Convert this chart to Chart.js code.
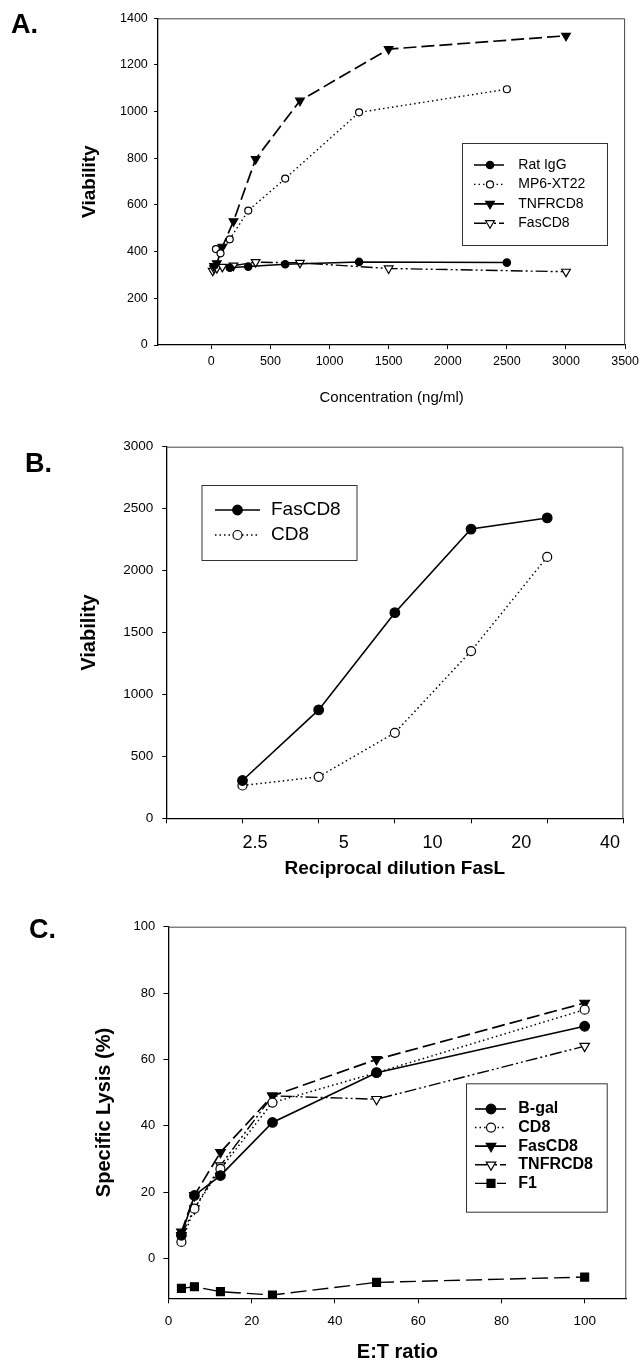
<!DOCTYPE html>
<html>
<head>
<meta charset="utf-8">
<script src="https://cdn.jsdelivr.net/npm/chart.js@4.4.1/dist/chart.umd.min.js"></script>
<style>
  body { margin: 0; background: #fff; width: 644px; height: 1362px; position: relative; overflow: hidden;
         font-family: 'Liberation Sans', Arial, sans-serif; }
  .panel { position: absolute; left: 0; width: 644px; }
  .panel canvas { display: block; }
  .tag { position: absolute; font-weight: bold; font-size: 27px; line-height: 27px; color: #000; }
</style>
</head>
<body>
<div class="panel" style="top:0;height:420px"><canvas id="chartA" width="644" height="420"></canvas></div>
<div class="panel" style="top:420px;height:470px"><canvas id="chartB" width="644" height="470"></canvas></div>
<div class="panel" style="top:890px;height:472px"><canvas id="chartC" width="644" height="472"></canvas></div>
<div class="tag" style="left:11px;top:11.4px">A.</div>
<div class="tag" style="left:25px;top:449.7px">B.</div>
<div class="tag" style="left:29px;top:916.4px">C.</div>

<script>
// ── A: viability vs. antibody / fusion protein concentration ──
const concRatIgG = [156.25, 312.5, 625, 1250, 2500];
const ratIgG     = [331, 336, 346, 356, 353];
const concMP6    = [39, 78, 156.25, 312.5, 625, 1250, 2500];
const mp6XT22    = [411, 393, 453, 576, 713, 997, 1096];
const concTNFR   = [23.4, 46.9, 93.75, 187.5, 375, 750, 1500, 3000];
const tnfrCD8A   = [338, 350, 421, 530, 797, 1047, 1268, 1325];
const concFas    = [11.7, 23.4, 46.9, 93.75, 187.5, 375, 750, 1500, 3000];
const fasCD8A    = [318, 328, 330, 335, 340, 355, 352, 328, 314];
const tickConcA  = [0, 500, 1000, 1500, 2000, 2500, 3000, 3500];
const tickViabA  = [0, 200, 400, 600, 800, 1000, 1200, 1400];

// ── B: viability vs. reciprocal FasL dilution ──
const dilutionB  = [2.5, 5, 10, 20, 40];
const fasCD8B    = [305, 875, 1660, 2335, 2425];
const cd8B       = [265, 335, 690, 1350, 2110];
const tickDilB   = [1.25, 2.5, 5, 10, 20, 40, 80];   // tick marks
const labelDilB  = [2.5, 5, 10, 20, 40];             // printed labels (offset in the original)
const tickViabB  = [0, 500, 1000, 1500, 2000, 2500, 3000];

// ── C: specific lysis vs. E:T ratio ──
const ratioC     = [3.125, 6.25, 12.5, 25, 50, 100];
const bgalC      = [7, 19, 25, 41, 56, 70];
const cd8C       = [5, 15, 27, 47, 56, 75];
const fasCD8C    = [8, 19, 32, 49, 60, 77];
const tnfrCD8C   = [7, 15, 28, 49, 48, 64];
const f1C        = [-9, -8.5, -10, -11, -7.2, -5.6];
const tickRatioC = [0, 20, 40, 60, 80, 100];
const tickLysisC = [0, 20, 40, 60, 80, 100];

const FONT = "'Liberation Sans', Arial, sans-serif";

const DASH = {
  solid: [],
  dot: [1.5, 3],
  longDash: [13, 5],
  dashDotDot: [12, 3, 2, 3, 2, 3],
  dash: [16, 6]
};
const MARK = {
  dot:     { style: 'circle',   rot: 0,   fill: '#000' },
  ring:    { style: 'circle',   rot: 0,   fill: '#fff' },
  triDown: { style: 'triangle', rot: 180, fill: '#000' },
  triOpen: { style: 'triangle', rot: 180, fill: '#fff' },
  square:  { style: 'rect',     rot: 0,   fill: '#000' }
};

/** 데이터셋 하나 */
function series(label, xs, ys, dash, mark, r, lw) {
  return {
    label,
    data: xs.map((x, i) => ({ x, y: ys[i] })),
    borderColor: '#000', borderWidth: lw, borderDash: dash,
    pointStyle: mark.style, pointRotation: mark.rot,
    pointRadius: r, pointHoverRadius: r,
    pointBackgroundColor: mark.fill, pointBorderColor: '#000', pointBorderWidth: 1.2,
    fill: false, tension: 0
  };
}

const setTicks = arr => s => { s.ticks = arr.map(v => ({ value: v })); };
const plain = v => String(v);

function yAxis(o) {
  return {
    type: 'linear', position: 'left', min: o.min, max: o.max,
    afterBuildTicks: setTicks(o.ticks),
    afterFit: s => { s.width = o.width; },
    grid: { drawOnChartArea: false, color: '#000', tickLength: o.tl, tickWidth: 1 },
    border: { color: '#000', width: 1.3 },
    ticks: { color: '#000', padding: o.pad, callback: plain, font: { family: FONT, size: o.size } },
    title: {
      display: true, text: o.title, color: '#000',
      font: { family: FONT, size: o.tSize, weight: 'bold', lineHeight: 1 },
      padding: { top: o.tPad, bottom: 0 }
    }
  };
}

function xAxis(o) {
  return {
    type: o.type || 'linear', position: 'bottom', min: o.min, max: o.max, weight: o.weight || 0,
    afterBuildTicks: setTicks(o.ticks),
    afterFit: s => { s.height = o.height; },
    grid: o.noMarks
      ? { display: false, drawTicks: false }
      : { drawOnChartArea: false, color: '#000', tickLength: o.tl, tickWidth: 1 },
    border: o.noMarks ? { display: false } : { color: '#000', width: 1.3 },
    ticks: {
      display: o.size > 0, color: '#000', padding: o.pad || 0, callback: plain,
      maxRotation: 0, autoSkip: false, font: { family: FONT, size: o.size || 10 }
    },
    title: o.title ? {
      display: true, text: o.title, color: '#000',
      font: { family: FONT, size: o.tSize, weight: o.tBold ? 'bold' : 'normal', lineHeight: 1 },
      padding: { top: 0, bottom: o.tPad }
    } : { display: false }
  };
}

// 플롯 테두리 (위, 오른쪽)
const frame = {
  id: 'frame',
  beforeDatasetsDraw(chart) {
    const { ctx, chartArea: a } = chart;
    ctx.save();
    ctx.strokeStyle = '#444';
    ctx.lineWidth = 1;
    ctx.beginPath();
    ctx.moveTo(a.left, a.top + 0.5);
    ctx.lineTo(a.right - 0.5, a.top + 0.5);
    ctx.lineTo(a.right - 0.5, a.bottom);
    ctx.stroke();
    ctx.restore();
  }
};

// 박스 범례 (선 + 마커 + 라벨)
function boxLegend(o) {
  return {
    id: 'boxLegend',
    afterDraw(chart) {
      const ctx = chart.ctx;
      ctx.save();
      ctx.fillStyle = '#fff';
      ctx.fillRect(o.x, o.y, o.w, o.h);
      ctx.strokeStyle = '#333';
      ctx.lineWidth = 1;
      ctx.strokeRect(o.x + 0.5, o.y + 0.5, o.w, o.h);
      chart.data.datasets.forEach((ds, i) => {
        const y = o.rowY + i * o.rowGap;
        ctx.setLineDash(ds.borderDash);
        ctx.strokeStyle = ds.borderColor;
        ctx.lineWidth = ds.borderWidth;
        ctx.beginPath();
        ctx.moveTo(o.x0, y);
        ctx.lineTo(o.x1, y);
        ctx.stroke();
        ctx.setLineDash([]);
        ctx.fillStyle = ds.pointBackgroundColor;
        ctx.strokeStyle = ds.pointBorderColor;
        ctx.lineWidth = ds.pointBorderWidth;
        Chart.helpers.drawPoint(ctx, {
          pointStyle: ds.pointStyle, rotation: ds.pointRotation,
          radius: ds.pointRadius, borderWidth: ds.pointBorderWidth
        }, o.mx, y);
        ctx.fillStyle = '#000';
        ctx.font = o.font;
        ctx.textBaseline = 'middle';
        ctx.textAlign = 'left';
        ctx.fillText(ds.label, o.tx, y);
      });
      ctx.restore();
    }
  };
}

const common = {
  responsive: false,
  animation: false,
  events: [],
  plugins: { legend: { display: false }, tooltip: { enabled: false } }
};

// ── A ──
new Chart(document.getElementById('chartA'), {
  type: 'line',
  data: {
    datasets: [
      series('Rat IgG',  concRatIgG, ratIgG,   DASH.solid,      MARK.dot,     3.7, 1.5),
      series('MP6-XT22', concMP6,    mp6XT22,  DASH.dot,        MARK.ring,    3.5, 1.4),
      series('TNFRCD8',  concTNFR,   tnfrCD8A, DASH.longDash,   MARK.triDown, 5,   1.7),
      series('FasCD8',   concFas,    fasCD8A,  DASH.dashDotDot, MARK.triOpen, 5,   1.4)
    ]
  },
  options: {
    ...common,
    layout: { padding: { left: 0, top: 18.3, right: 15.7, bottom: 0 } },
    scales: {
      x: xAxis({ min: -450, max: 3500, ticks: tickConcA, height: 75, tl: 4, pad: 5, size: 12.5,
                 title: 'Concentration (ng/ml)', tSize: 15, tPad: 14.5 }),
      y: yAxis({ min: 0, max: 1400, ticks: tickViabA, width: 158.1, tl: 4, pad: 6.3, size: 12.5,
                 title: 'Viability', tSize: 19, tPad: 80 })
    }
  },
  plugins: [frame, boxLegend({ x: 462, y: 143, w: 145, h: 102, rowY: 165, rowGap: 19.4,
                               x0: 474, x1: 504, mx: 490, tx: 518.3, font: '14px ' + FONT })]
});

// ── B ──
new Chart(document.getElementById('chartB'), {
  type: 'line',
  data: {
    datasets: [
      series('FasCD8', dilutionB, fasCD8B, DASH.solid, MARK.dot,  4.8, 1.6),
      series('CD8',    dilutionB, cd8B,    DASH.dot,   MARK.ring, 4.5, 1.5)
    ]
  },
  options: {
    ...common,
    layout: { padding: { left: 0, top: 26.7, right: 20.6, bottom: 0 } },
    scales: {
      x: xAxis({ type: 'logarithmic', min: 1.25, max: 80, ticks: tickDilB, height: 5, tl: 5, size: 0 }),
      xl: xAxis({ type: 'logarithmic', min: 1.25, max: 44.4, ticks: labelDilB, height: 66.7, weight: 1,
                  noMarks: true, pad: 9.2, size: 18,
                  title: 'Reciprocal dilution FasL', tSize: 19, tBold: true, tPad: 11.5 }),
      y: yAxis({ min: 0, max: 3000, ticks: tickViabB, width: 166.3, tl: 4, pad: 9, size: 13.5,
                 title: 'Viability', tSize: 20, tPad: 79.5 })
    }
  },
  plugins: [frame, boxLegend({ x: 201.5, y: 65, w: 155, h: 75, rowY: 90, rowGap: 25,
                               x0: 215, x1: 260, mx: 237.5, tx: 271, font: '19px ' + FONT })]
});

// ── C ──
new Chart(document.getElementById('chartC'), {
  type: 'line',
  data: {
    datasets: [
      series('B-gal',   ratioC, bgalC,    DASH.solid,      MARK.dot,     4.8, 1.6),
      series('CD8',     ratioC, cd8C,     DASH.dot,        MARK.ring,    4.5, 1.5),
      series('FasCD8',  ratioC, fasCD8C,  DASH.longDash,   MARK.triDown, 5.5, 1.7),
      series('TNFRCD8', ratioC, tnfrCD8C, DASH.dashDotDot, MARK.triOpen, 5.5, 1.4),
      series('F1',      ratioC, f1C,      DASH.dash,       MARK.square,  5.6, 1.4)
    ]
  },
  options: {
    ...common,
    layout: { padding: { left: 0, top: 36.7, right: 17.7, bottom: 0 } },
    scales: {
      x: xAxis({ min: 0, max: 110, ticks: tickRatioC, height: 63.7, tl: 5, pad: 10.3, size: 13.5,
                 title: 'E:T ratio', tSize: 20, tBold: true, tPad: 0 }),
      y: yAxis({ min: -12, max: 100, ticks: tickLysisC, width: 168.4, tl: 5, pad: 8.2, size: 13,
                 title: 'Specific Lysis (%)', tSize: 20, tPad: 94.7 })
    }
  },
  plugins: [frame, boxLegend({ x: 466, y: 193.3, w: 140.7, h: 128.4, rowY: 219, rowGap: 18.6,
                               x0: 475, x1: 506, mx: 491, tx: 518.3, font: 'bold 16px ' + FONT })]
});
</script>
</body>
</html>
